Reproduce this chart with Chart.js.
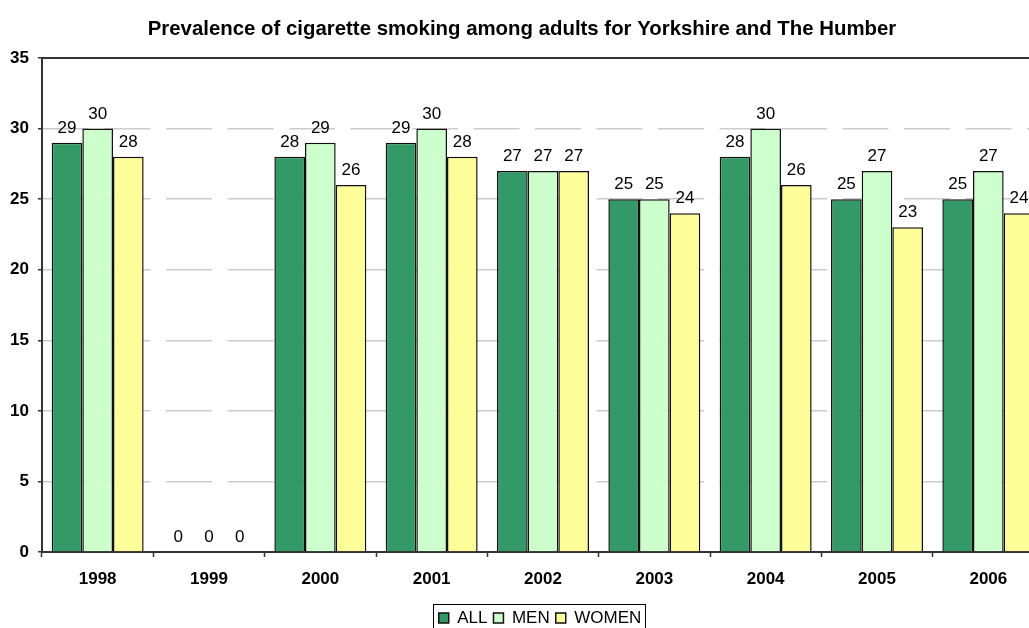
<!DOCTYPE html>
<html>
<head>
<meta charset="utf-8">
<title>Prevalence of cigarette smoking</title>
<script src="https://cdn.jsdelivr.net/npm/chart.js@4/dist/chart.umd.min.js"></script>
<style>
    html, body { margin: 0; padding: 0; background: #fff; overflow: hidden; }
    #wrap { width: 1047px; height: 640px; }
</style>
</head>
<body>
<div id="wrap"><canvas id="smokingChart" width="1047" height="640"></canvas></div>
<script>
// Survey years and percentages per group
const years = ['1998', '1999', '2000', '2001', '2002', '2003', '2004', '2005', '2006'];
const allAdults = [29, 0, 28, 29, 27, 25, 28, 25, 25];
const men = [30, 0, 29, 30, 27, 25, 30, 27, 27];
const women = [28, 0, 26, 28, 27, 24, 26, 23, 24];
const yTicks = [0, 5, 10, 15, 20, 25, 30, 35];

const FONT = "'Liberation Sans', Arial, sans-serif";
const AXIS = '#333333';

// Value written above every bar
const barLabels = {
    id: 'barLabels',
    afterDatasetsDraw(chart) {
        const ctx = chart.ctx;
        ctx.save();
        ctx.font = '17px ' + FONT;
        ctx.fillStyle = '#000';
        ctx.textAlign = 'center';
        ctx.textBaseline = 'alphabetic';
        chart.data.datasets.forEach((ds, i) => {
            chart.getDatasetMeta(i).data.forEach((bar, j) => {
                ctx.fillText(String(ds.data[j]), bar.x, bar.y - 10);
            });
        });
        ctx.restore();
    }
};

// Top edge of the plot area and the frame round the legend
const frames = {
    id: 'frames',
    afterLayout(chart) {
        // nudge the legend a little to the right
        chart.legend.left += 18;
        chart.legend.right += 18;
    },
    afterDraw(chart) {
        const ctx = chart.ctx;
        const area = chart.chartArea;
        ctx.save();
        ctx.strokeStyle = AXIS;
        ctx.lineWidth = 2;
        ctx.beginPath();
        ctx.moveTo(area.left, area.top);
        ctx.lineTo(area.right, area.top);
        ctx.stroke();

        const boxes = chart.legend.legendHitBoxes;
        if (boxes && boxes.length) {
            const first = boxes[0];
            const last = boxes[boxes.length - 1];
            const x1 = first.left - 6;
            const x2 = last.left + last.width + 3;
            const y1 = first.top - 5.5;
            ctx.strokeStyle = '#000';
            ctx.lineWidth = 1;
            ctx.strokeRect(Math.round(x1) + 0.5, Math.round(y1) + 0.5, Math.round(x2 - x1), 30);
        }
        ctx.restore();
    }
};

const ctx = document.getElementById('smokingChart').getContext('2d');
const smokingChart = new Chart(ctx, {
    type: 'bar',
    data: {
        labels: years,
        datasets: [
            { label: 'ALL', data: allAdults, backgroundColor: '#339966' },
            { label: 'MEN', data: men, backgroundColor: '#ccffcc' },
            { label: 'WOMEN', data: women, backgroundColor: '#ffff99' }
        ].map(ds => Object.assign(ds, {
            borderColor: '#111',
            borderWidth: 1.5,
            borderSkipped: 'start',
            categoryPercentage: 0.826,
            barPercentage: 1
        }))
    },
    options: {
        responsive: false,
        animation: false,
        devicePixelRatio: 1,
        layout: { padding: { left: 0, right: 3, top: 0, bottom: 3.5 } },
        scales: {
            x: {
                offset: true,
                grid: {
                    offset: true,
                    drawOnChartArea: false,
                    tickLength: 5,
                    tickColor: AXIS,
                    tickWidth: 1.5
                },
                border: { color: AXIS, width: 2 },
                ticks: {
                    color: '#000',
                    padding: 12,
                    font: { family: FONT, size: 17, weight: 'bold' }
                },
                afterFit(scale) { scale.height = 51.5; }
            },
            y: {
                min: 0,
                max: 35,
                afterBuildTicks(scale) {
                    scale.ticks = yTicks.map(v => ({ value: v }));
                },
                grid: {
                    color: '#cccccc',
                    lineWidth: 1.5,
                    tickLength: 4,
                    tickColor: AXIS,
                    tickWidth: 1.5
                },
                border: { color: AXIS, width: 2, dash: [46, 15.5] },
                ticks: {
                    color: '#000',
                    padding: 9,
                    font: { family: FONT, size: 17, weight: 'bold' }
                },
                afterFit(scale) { scale.width = 42; }
            }
        },
        plugins: {
            title: {
                display: true,
                text: 'Prevalence of cigarette smoking among adults for Yorkshire and The Humber',
                color: '#000',
                font: { family: FONT, size: 20.4, weight: 'bold', lineHeight: 1.2 },
                padding: { top: 17, bottom: 16.5 }
            },
            legend: {
                position: 'bottom',
                labels: {
                    color: '#000',
                    boxWidth: 10,
                    boxHeight: 10,
                    padding: 6,
                    font: { family: FONT, size: 17 }
                }
            },
            tooltip: { enabled: false }
        }
    },
    plugins: [barLabels, frames]
});
</script>
</body>
</html>
